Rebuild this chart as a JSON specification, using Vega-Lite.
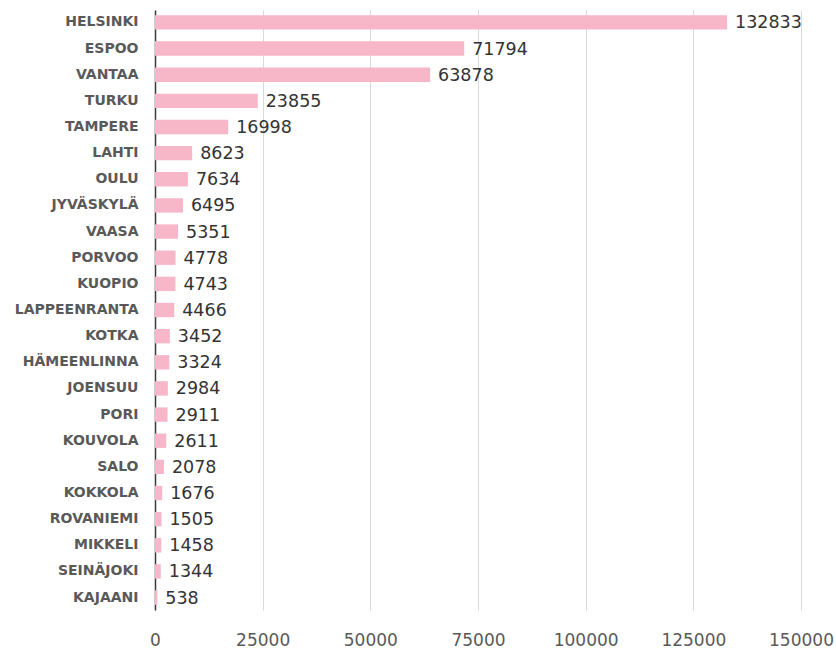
{
  "$schema": "https://vega.github.io/schema/vega-lite/v6.json",
  "autosize": "none",
  "padding": {"left": 155, "top": 10, "right": 35, "bottom": 39},
  "width": 646,
  "height": 600,
  "background": "white",
  "config": {"view": {"stroke": null}},
  "data": {"values": [
    {"city": "HELSINKI", "value": 132833},
    {"city": "ESPOO", "value": 71794},
    {"city": "VANTAA", "value": 63878},
    {"city": "TURKU", "value": 23855},
    {"city": "TAMPERE", "value": 16998},
    {"city": "LAHTI", "value": 8623},
    {"city": "OULU", "value": 7634},
    {"city": "JYVÄSKYLÄ", "value": 6495},
    {"city": "VAASA", "value": 5351},
    {"city": "PORVOO", "value": 4778},
    {"city": "KUOPIO", "value": 4743},
    {"city": "LAPPEENRANTA", "value": 4466},
    {"city": "KOTKA", "value": 3452},
    {"city": "HÄMEENLINNA", "value": 3324},
    {"city": "JOENSUU", "value": 2984},
    {"city": "PORI", "value": 2911},
    {"city": "KOUVOLA", "value": 2611},
    {"city": "SALO", "value": 2078},
    {"city": "KOKKOLA", "value": 1676},
    {"city": "ROVANIEMI", "value": 1505},
    {"city": "MIKKELI", "value": 1458},
    {"city": "SEINÄJOKI", "value": 1344},
    {"city": "KAJAANI", "value": 538}
  ]},
  "encoding": {
    "y": {
      "field": "city", "type": "nominal", "sort": null, "title": null,
      "scale": {"paddingInner": 0.45, "paddingOuter": 0.2},
      "axis": {
        "domain": true, "domainColor": "#3a3a3a", "domainWidth": 1.5,
        "ticks": false, "labelPadding": 17,
        "labelFont": "DejaVu Sans", "labelFontSize": 14, "labelFontWeight": "bold",
        "labelColor": "#595959"
      }
    },
    "x": {
      "field": "value", "type": "quantitative", "title": null,
      "scale": {"domain": [0, 150000], "nice": false},
      "axis": {
        "values": [0, 25000, 50000, 75000, 100000, 125000, 150000],
        "format": "d", "domain": false, "ticks": false, "labelFlush": false,
        "grid": true, "gridColor": "#d9d9d9",
        "labelPadding": 22, "labelFont": "DejaVu Sans", "labelFontSize": 17,
        "labelColor": "#595959"
      }
    }
  },
  "layer": [
    {"mark": {"type": "bar", "color": "#f8b7c9"}},
    {
      "mark": {"type": "text", "align": "left", "dx": 8, "dy": 1, "font": "DejaVu Sans", "fontSize": 17.5, "color": "#333333"},
      "encoding": {"text": {"field": "value", "type": "quantitative", "format": "d"}}
    }
  ]
}
